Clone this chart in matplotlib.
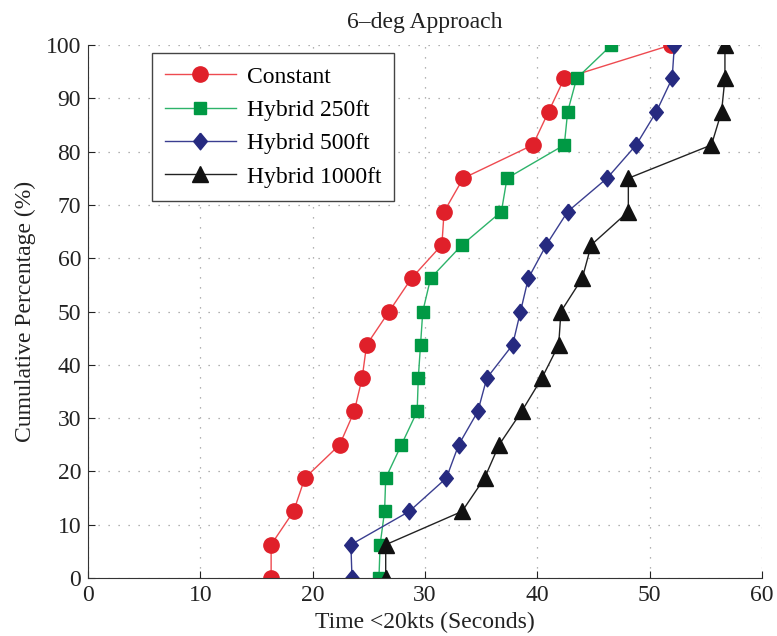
import matplotlib
matplotlib.use('Agg')
import matplotlib.pyplot as plt

plt.rcParams['font.family'] = ['Liberation Serif', 'DejaVu Serif']

# cumulative percentage levels (16 runs)
pct = [0, 6.25, 12.5, 18.75, 25, 31.25, 37.5, 43.75, 50, 56.25,
       62.5, 68.75, 75, 81.25, 87.5, 93.75, 100]

t_constant = [16.3, 16.3, 18.3, 19.3, 22.4, 23.7, 24.4, 24.8, 26.8, 28.8,
              31.5, 31.7, 33.4, 39.6, 41.0, 42.4, 51.9]
t_hybrid250 = [25.9, 26.0, 26.4, 26.5, 27.9, 29.3, 29.4, 29.6, 29.8, 30.5,
               33.3, 36.8, 37.3, 42.4, 42.7, 43.5, 46.6]
t_hybrid500 = [23.5, 23.4, 28.6, 31.9, 33.0, 34.7, 35.5, 37.8, 38.5, 39.2,
               40.8, 42.7, 46.2, 48.8, 50.6, 52.0, 52.2]
t_hybrid1000 = [26.5, 26.5, 33.3, 35.3, 36.6, 38.6, 40.4, 41.9, 42.1, 44.0,
                44.8, 48.1, 48.1, 55.5, 56.4, 56.7, 56.7]

# slightly tall diamond, like the MATLAB marker
diamond = [(0, 1), (0.82, 0), (0, -1), (-0.82, 0), (0, 1)]

series = [
    ('Constant', t_constant, 'o', '#e0202a', '#ee4a50', 11),
    ('Hybrid 250ft', t_hybrid250, 's', '#009944', '#2db36a', 8.5),
    ('Hybrid 500ft', t_hybrid500, diamond, '#262a80', '#3a3e90', 12),
    ('Hybrid 1000ft', t_hybrid1000, '^', '#111111', '#222222', 11),
]

fig = plt.figure(figsize=(7.77, 6.36), dpi=100)
ax = fig.add_axes([0.1133, 0.0912, 0.8674, 0.838])

for label, t, marker, mcol, lcol, ms in series:
    ax.plot(t, pct, color=lcol, lw=1.0, marker=marker, markersize=ms,
            markerfacecolor=mcol, markeredgecolor=mcol, label=label)

ax.set_xlim(0, 60)
ax.set_ylim(0, 100)
ax.set_xticks(range(0, 61, 10))
ax.set_yticks(range(0, 101, 10))
ax.grid(True, linestyle=(0, (1, 7)), color='#999999', lw=0.9)
ax.spines['top'].set_visible(False)
ax.spines['right'].set_visible(False)
for s in ('left', 'bottom'):
    ax.spines[s].set_color('#333333')
ax.tick_params(direction='in', labelsize=17, length=5, pad=5,
               colors='#222222')

ax.set_xlabel('Time <20kts (Seconds)', fontsize=17, labelpad=4,
              color='#222222')
ax.set_ylabel('Cumulative Percentage (%)', fontsize=17, labelpad=7,
              color='#222222')
ax.set_title('6\u2013deg Approach', fontsize=17, pad=12, color='#222222')

leg = ax.legend(loc='upper left', bbox_to_anchor=(0.095, 0.985),
                borderaxespad=0, fontsize=17, fancybox=False,
                edgecolor='#444444', framealpha=1, handlelength=3.0,
                handletextpad=0.45, labelspacing=0.5, borderpad=0.55)
leg.get_frame().set_linewidth(1.0)

fig.savefig('out.png', dpi=100)
